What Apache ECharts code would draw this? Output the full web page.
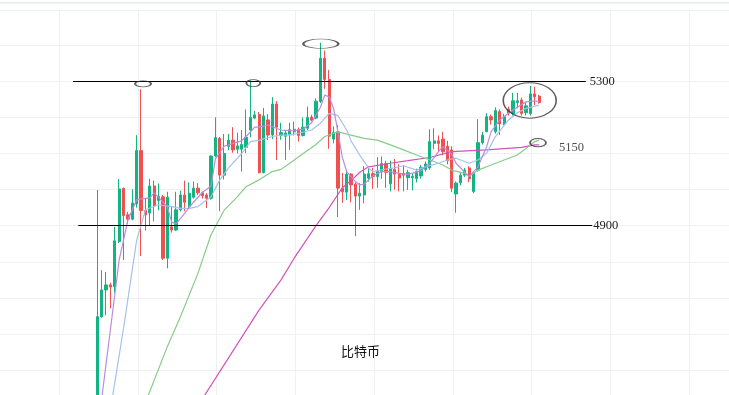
<!DOCTYPE html>
<html><head><meta charset="utf-8">
<script src="https://cdn.jsdelivr.net/npm/echarts@6/dist/echarts.min.js"></script>
<style>html,body{margin:0;padding:0;background:#fff}#c{width:729px;height:395px}</style>
</head><body><div id="c"></div>
<script>
const titleText = '比特币';
const opens = [4380,4648,4722,4736,4731,4856,5003,4930,4918,4960,
5108,4942,4935,5010,4970,4980,4810,4897,4888,4944,
4985,4955,4979,5004,4991,4985,4976,5093,5142,5040,
5120,5137,5112,5112,5117,5165,5198,5208,5047,5193,
5151,5237,5150,5148,5153,5160,5166,5150,5170,5201,
5198,5244,5364,5305,5140,5160,5004,4993,5043,5015,
4982,4985,5032,5044,5036,5050,5072,5016,5056,5045,
5045,5033,5033,5031,5038,5056,5060,5128,5135,5140,
5120,5110,4988,5019,5040,5060,4995,5054,5130,5160,
5202,5160,5216,5182,5223,5211,5241,5248,5213,5211,
5265,5259];
const closes = [4648,4722,4736,4730,4858,5002,4928,4918,4963,5108,
4942,4930,5010,4955,4981,4810,4979,4888,4944,4985,
4965,4990,5004,4991,4983,4976,5093,5144,5040,5100,
5137,5110,5121,5125,5145,5200,5207,5047,5204,5151,
5237,5173,5158,5157,5166,5167,5150,5173,5200,5193,
5245,5364,5305,5148,5158,5004,4994,5043,5013,4982,
4990,5043,5044,5036,5050,5072,5048,5059,5043,5032,
5040,5047,5037,5050,5062,5071,5133,5135,5128,5105,
5080,5004,5018,5040,5054,5030,5045,5130,5151,5202,
5193,5219,5182,5202,5212,5246,5246,5211,5232,5265,
5257,5241];
const lows = [4370,4645,4652,4671,4713,4852,4805,4905,4915,4950,
4816,4886,4900,4912,4943,4805,4782,4881,4885,4940,
4940,4948,4975,4985,4975,4949,4972,5090,4940,5028,
5109,5102,5100,5050,5101,5145,5195,5045,5045,5137,
5140,5082,5138,5082,5110,5150,5133,5147,5165,5189,
5195,5240,5279,5113,5128,4924,4963,4971,4965,4871,
4944,4962,5022,5002,5005,5030,5005,4995,5000,4995,
4995,4999,4998,5020,5030,5050,5055,5112,5105,5095,
5070,4993,4936,5012,5035,5020,4990,5050,5125,5160,
5180,5155,5151,5178,5205,5205,5225,5205,5205,5205,
5234,5238];
const highs = [4999,4777,4772,4742,4897,5029,5006,4938,5001,5151,
5278,4975,5030,5025,5017,4985,4994,4953,4994,4997,
5025,5020,5022,5018,4995,4990,5095,5200,5146,5154,
5154,5173,5158,5165,5222,5302,5218,5215,5226,5209,
5256,5245,5185,5165,5185,5188,5172,5200,5230,5207,
5253,5407,5385,5331,5175,5179,5046,5055,5045,5020,
5018,5065,5060,5060,5090,5092,5080,5080,5085,5070,
5068,5055,5045,5058,5068,5078,5167,5170,5150,5160,
5135,5120,5022,5048,5060,5065,5050,5195,5160,5212,
5208,5228,5222,5210,5230,5268,5268,5255,5240,5287,
5285,5262];
// moving averages: [candle index, value]
const ma5 = [[1,4420],[5,4805],[7,4916],[9,4972],[12,4977],[13,4991],[16,4953],[17,4910],[18,4905],[20,4935],[22,4965],[24,4992],[26,5010],[27,5085],[29,5120],[31,5128],[33,5135],[34,5147],[36,5173],[37,5173],[39,5179],[40,5174],[42,5165],[45,5163],[47,5167],[49,5185],[51,5228],[52,5262],[53,5257],[54,5225],[55,5160],[56,5090],[57,5050],[59,5022],[60,5013],[61,5015],[63,5038],[65,5050],[67,5050],[69,5045],[71,5042],[74,5052],[76,5073],[78,5105],[79,5119],[81,5098],[82,5073],[84,5048],[85,5036],[87,5063],[89,5119],[90,5160],[92,5193],[94,5212],[96,5228],[98,5243],[100,5246],[101,5243]];
const ma10 = [[3,4390],[6,4616],[9,4860],[11,4944],[14,4958],[17,4953],[19,4948],[21,4948],[23,4953],[25,4971],[26,4980],[28,5027],[30,5060],[33,5100],[35,5133],[37,5137],[40,5147],[42,5151],[44,5151],[46,5156],[49,5165],[51,5184],[53,5211],[55,5205],[57,5165],[58,5135],[60,5095],[62,5060],[63,5050],[65,5055],[68,5060],[70,5066],[73,5054],[75,5063],[78,5073],[80,5082],[82,5087],[85,5073],[87,5082],[89,5101],[91,5147],[94,5193],[96,5213],[98,5225],[101,5234]];
const ma30 = [[11,4410],[16,4565],[19,4648],[23,4768],[26,4875],[29,4943],[32,4980],[34,5008],[37,5027],[40,5050],[42,5056],[44,5073],[48,5108],[50,5125],[52,5147],[55,5160],[58,5151],[61,5142],[64,5137],[67,5124],[70,5110],[73,5096],[76,5082],[79,5068],[81,5054],[84,5045],[85,5036],[87,5054],[90,5068],[93,5082],[96,5096],[98,5114],[100,5133],[101,5137]];
const ma60 = [[24,4420],[37,4667],[42,4750],[45,4810],[50,4900],[53,4950],[56,5005],[58,5025],[60,5048],[62,5063],[67,5073],[71,5080],[76,5089],[81,5105],[89,5110],[97,5117],[100,5124],[101,5124]];
const levelValues = [5300, 4900];
const levelLabels = ['5300', '4900'];
// circled spots: [candle index, price]
const marks = [[10,5293],[36,5295],[51,5404],[99,5247],[101,5130]];
const markNote = '5150';

const N = closes.length;
const categories = closes.map((_, i) => String(i + 1));
const kdata = opens.map((o, i) => [o, closes[i], lows[i], highs[i]]);

const UP = '#14b383', DOWN = '#f0504f';
const Y_MIN = 4400, Y_MAX = 5497.5, G_TOP = 10, G_BOTTOM = -11.2;
const hidden = {axisLine:{show:false}, axisTick:{show:false}, axisLabel:{show:false}};
const gridLine = {show:true, lineStyle:{color:'#f0f0f0', width:1}};
const labelFont = {color:'#222', fontFamily:'"Liberation Serif", serif', fontSize:12.5};

const levelSpans = [[92.75, 605.5, 4], [98, 612, 1]];
const markShapes = [
  {size:[16,6], off:[2,0]},
  {size:[14,7], off:[-1.5,0]},
  {size:[35,9.5], off:[0.4,0]},
  {size:[53,35.5], off:[-0.7,0]},
  {size:[16,8.3], off:[-1.2,0]}
];
const ellipsePath = 'path://M0,1 C0,0.45 0.45,0 1,0 C1.55,0 2,0.45 2,1 C2,1.55 1.55,2 1,2 C0.45,2 0,1.55 0,1 Z';

const chart = echarts.init(document.getElementById('c'));
chart.setOption({
  animation: false,
  backgroundColor: '#ffffff',
  title: {text: titleText, left: 341, top: 345, padding: 0,
    textStyle: {fontSize: 13, fontWeight: 'normal', color: '#111', fontFamily: '"Noto Sans CJK SC", sans-serif'}},
  graphic: [{type:'rect', shape:{x:0, y:2, width:729, height:1.4}, style:{fill:'#e3eaf1'}, silent:true}],
  grid: [
    {left: -19.75, width: 787.5, top: G_TOP, bottom: G_BOTTOM, outerBoundsMode: 'none', containLabel: false},
    {left: 95.11, width: 446.25, top: G_TOP, bottom: G_BOTTOM, outerBoundsMode: 'none', containLabel: false}
  ],
  xAxis: [
    Object.assign({gridIndex:0, type:'value', min:0, max:787.5, interval:78.75, splitLine:gridLine}, hidden),
    Object.assign({gridIndex:1, type:'category', data:categories, boundaryGap:true, splitLine:{show:false}}, hidden)
  ],
  yAxis: [
    Object.assign({gridIndex:0, type:'value', min:Y_MIN, max:Y_MAX, interval:100, splitLine:gridLine}, hidden),
    Object.assign({gridIndex:1, type:'value', min:Y_MIN, max:Y_MAX, interval:100, splitLine:{show:false}}, hidden)
  ],
  series: [
    {type:'line', xAxisIndex:0, yAxisIndex:0, data:[], silent:true,
      markLine: {silent:true, symbol:['none','none'], animation:false,
        data: levelValues.map((v, i) => [
          {coord:[levelSpans[i][0], v], lineStyle:{color:'#000', width:1.2, type:'solid'},
            label:{show:true, position:'end', distance:levelSpans[i][2], formatter:levelLabels[i], ...labelFont}},
          {coord:[levelSpans[i][1], v]}
        ])}
    },
    {type:'candlestick', xAxisIndex:1, yAxisIndex:1, data:kdata, barWidth:2.8,
      itemStyle:{color:UP, color0:DOWN, borderColor:UP, borderColor0:DOWN, borderWidth:1}},
    {type:'line', xAxisIndex:1, yAxisIndex:1, data:ma60, symbol:'none', lineStyle:{color:'#cf54bb', width:1.2}, z:3},
    {type:'line', xAxisIndex:1, yAxisIndex:1, data:ma30, symbol:'none', lineStyle:{color:'#88cc88', width:1.2}, z:3},
    {type:'line', xAxisIndex:1, yAxisIndex:1, data:ma10, symbol:'none', lineStyle:{color:'#a4c2ea', width:1.2}, z:3},
    {type:'line', xAxisIndex:1, yAxisIndex:1, data:ma5, symbol:'none', lineStyle:{color:'#b98ce2', width:1.2}, z:3},
    {type:'scatter', xAxisIndex:1, yAxisIndex:1, symbol:ellipsePath, z:5,
      itemStyle:{color:'rgba(0,0,0,0)', borderColor:'#333', borderWidth:1.3},
      data: marks.map((m, i) => {
        const item = {value:m, symbolSize:markShapes[i].size, symbolOffset:markShapes[i].off};
        if (i === marks.length - 1) item.label = {show:true, position:'right', distance:12, offset:[0,5], formatter:markNote, ...labelFont};
        return item;
      })}
  ]
});
</script></body></html>
